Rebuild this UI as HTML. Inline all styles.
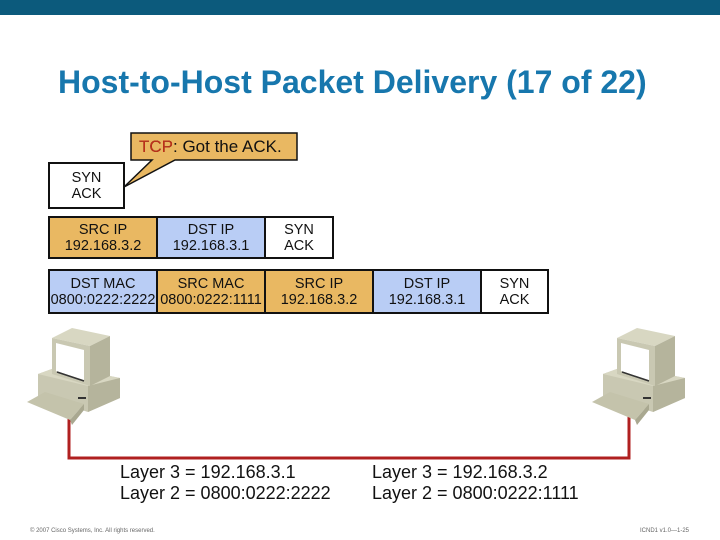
<!DOCTYPE html>
<html><head><style>
body{margin:0;width:720px;height:540px;background:#fff;position:relative;overflow:hidden;font-family:"Liberation Sans",sans-serif}
.a{position:absolute}
.c{position:absolute;box-sizing:border-box;border:2px solid #111;text-align:center;font-size:14.5px;line-height:16px;display:flex;flex-direction:column;justify-content:center;color:#111}
.o{background:#e9b862}.b{background:#b9cdf5}.w{background:#fff}
</style></head><body>
<div class="a" style="left:0;top:0;width:720px;height:15px;background:#0c5a7c"></div>
<div class="a" style="left:58px;top:64px;font-size:32px;color:#1777ad;font-weight:bold;white-space:nowrap">Host-to-Host Packet Delivery (17 of 22)</div>
<svg class="a" style="left:0;top:0" width="720" height="540">
<polygon points="131,133 297,133 297,160 175,160 124,187 152,160 131,160" fill="#e9b862" stroke="#111" stroke-width="1.5"/>
<polyline points="69,415 69,458 629,458 629,415" fill="none" stroke="#b02020" stroke-width="3"/>
<g id="pc">
<polygon points="38,374 60,366 120,378 120,398 88,412 38,396" fill="#c9c8b2"/>
<polygon points="38,374 60,366 120,378 88,386" fill="#d8d7c2"/>
<polygon points="88,386 120,378 120,398 88,412" fill="#b5b49c"/>
<rect x="78" y="397" width="8" height="2" fill="#333"/>
<polygon points="52,338 72,328 110,336 90,346" fill="#d8d7c2"/>
<polygon points="90,346 110,336 110,376 90,386" fill="#b5b49c"/>
<polygon points="52,338 90,346 90,386 52,374" fill="#c9c8b2"/>
<polygon points="56,343 84,350 84,380 56,371" fill="#fff"/>
<line x1="57" y1="372" x2="84" y2="381" stroke="#333" stroke-width="1.5"/>
<polygon points="27,402 45,392 84,404 70,420" fill="#c4c3ab"/>
<polygon points="70,420 84,404 84,410 72,425" fill="#a9a890"/>
</g>
<use href="#pc" transform="translate(565,0)"/>
</svg>
<div class="a" style="left:139px;top:137px;font-size:17px;color:#111">TCP: Got the ACK.</div>
<div class="a" style="left:139px;top:137px;font-size:17px;color:#c0301a">TCP</div>
<div class="c w" style="left:48px;top:162px;width:77px;height:47px">SYN<br>ACK</div>
<div class="c o" style="left:48px;top:216px;width:110px;height:43px">SRC IP<br>192.168.3.2</div>
<div class="c b" style="left:156px;top:216px;width:110px;height:43px">DST IP<br>192.168.3.1</div>
<div class="c w" style="left:264px;top:216px;width:70px;height:43px">SYN<br>ACK</div>
<div class="c b" style="left:48px;top:269px;width:110px;height:45px">DST MAC<br>0800:0222:2222</div>
<div class="c o" style="left:156px;top:269px;width:110px;height:45px">SRC MAC<br>0800:0222:1111</div>
<div class="c o" style="left:264px;top:269px;width:110px;height:45px">SRC IP<br>192.168.3.2</div>
<div class="c b" style="left:372px;top:269px;width:110px;height:45px">DST IP<br>192.168.3.1</div>
<div class="c w" style="left:480px;top:269px;width:69px;height:45px">SYN<br>ACK</div>
<div class="a" style="left:120px;top:462px;font-size:18px;line-height:21px;color:#111">Layer 3 = 192.168.3.1<br>Layer 2 = 0800:0222:2222</div>
<div class="a" style="left:372px;top:462px;font-size:18px;line-height:21px;color:#111">Layer 3 = 192.168.3.2<br>Layer 2 = 0800:0222:1111</div>
<div class="a" style="left:30px;top:528px;font-size:6px;color:#666">© 2007 Cisco Systems, Inc. All rights reserved.</div>
<div class="a" style="left:640px;top:528px;font-size:6px;color:#666">ICND1 v1.0—1-25</div>
</body></html>
